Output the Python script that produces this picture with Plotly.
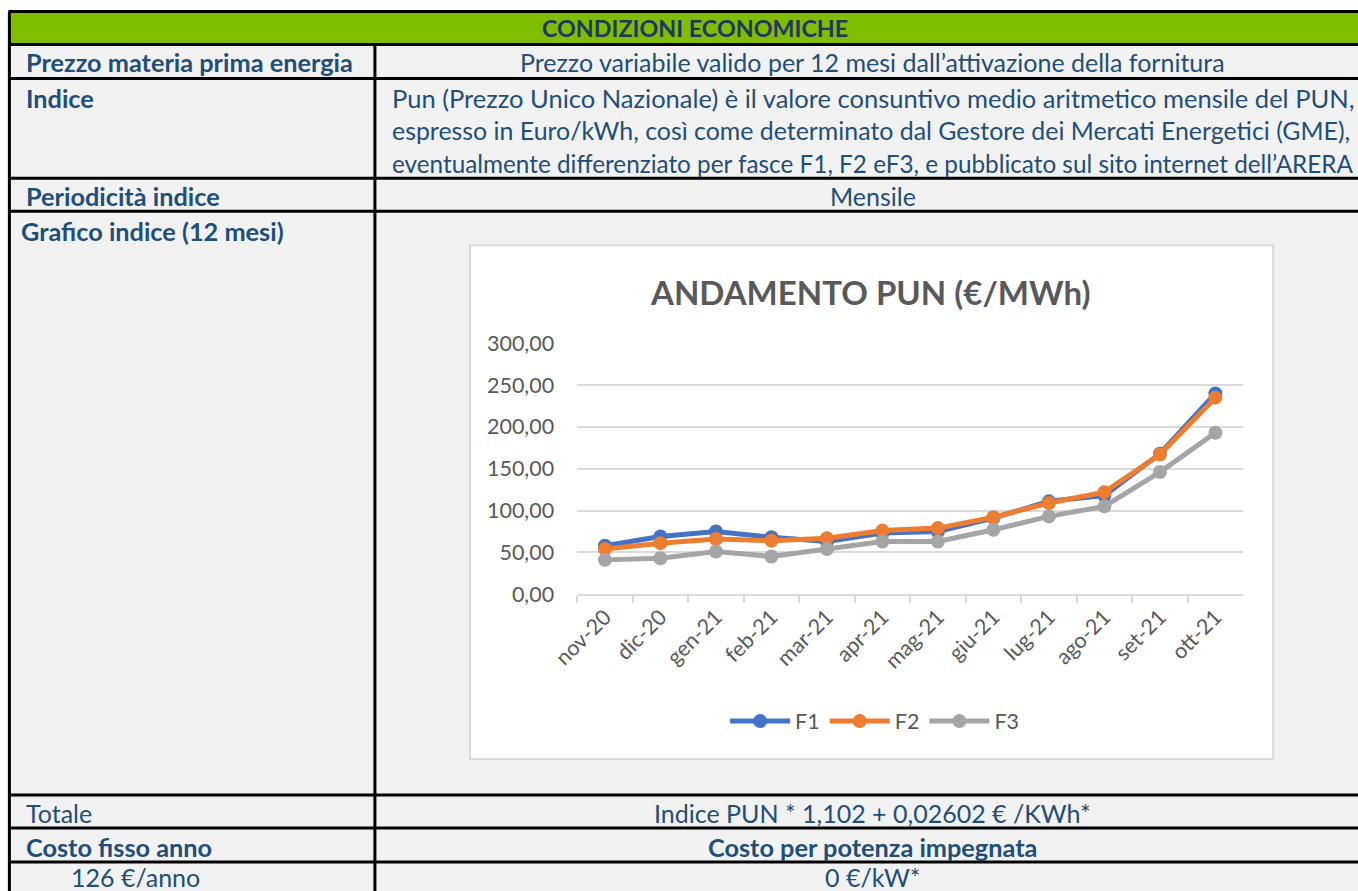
import plotly.graph_objects as go

# page shift applied to the body, and measured page->picture mapping of the renderer
MX, MY = 20, 10
W, H = 1358 + MX, 905 + MY
AX, SX = 27.2, 0.979
AY, SY = 13.3, 0.972

months = ["nov-20", "dic-20", "gen-21", "feb-21", "mar-21", "apr-21",
          "mag-21", "giu-21", "lug-21", "ago-21", "set-21", "ott-21"]
F1 = [58, 69, 75, 68, 63, 73, 75, 91, 111, 118, 168, 240]
F2 = [54, 61, 66, 64, 67, 76, 79, 92, 109, 122, 167, 235]
F3 = [41, 43, 51, 45, 54, 63, 63, 77, 93, 105, 146, 193]
series_names = ["F1", "F2", "F3"]
series_colors = ["#4472C4", "#ED7D31", "#A5A5A5"]

y_ticks = [0, 50, 100, 150, 200, 250, 300]

title_text = "ANDAMENTO PUN (€/MWh)"
header_text = "CONDIZIONI ECONOMICHE"

FONT = "Lato"
TXT = "#1F4E79"
HDR = "#1F3864"
GRAY = "#595959"


def fx(t):
    return max((t - AX) / SX + MX, 1.5)


def fy(t):
    return max((t - AY) / SY + MY, 1.5)


def px(t):
    return fx(t) / W


def py(t):
    return 1 - fy(t) / H


fig = go.Figure()
for name, vals, col in zip(series_names, [F1, F2, F3], series_colors):
    fig.add_trace(go.Scatter(
        x=months, y=vals, name=name, mode="lines+markers",
        line=dict(color=col, width=5),
        marker=dict(color=col, size=14),
    ))

shapes = []
shapes.append(dict(type="rect", xref="paper", yref="paper", x0=px(10), x1=1,
                   y0=0, y1=py(12), fillcolor="#F2F2F2", line=dict(width=0), layer="below"))
shapes.append(dict(type="rect", xref="paper", yref="paper", x0=px(10), x1=1,
                   y0=py(45), y1=py(12), fillcolor="#80BC00", line=dict(width=0), layer="below"))
shapes.append(dict(type="rect", xref="paper", yref="paper", x0=px(470), x1=px(1272),
                   y0=py(760), y1=py(246), fillcolor="#FFFFFF",
                   line=dict(color="#D9D9D9", width=2), layer="below"))
for yy in [12, 45, 79, 179, 212, 796, 829, 863]:
    shapes.append(dict(type="line", xref="paper", yref="paper", x0=px(9), x1=1,
                       y0=py(yy), y1=py(yy), line=dict(color="#000000", width=3), layer="below"))
shapes.append(dict(type="line", xref="paper", yref="paper", x0=px(10), x1=px(10),
                   y0=py(12), y1=0, line=dict(color="#000000", width=3), layer="below"))
shapes.append(dict(type="line", xref="paper", yref="paper", x0=px(375), x1=px(375),
                   y0=py(45), y1=0, line=dict(color="#000000", width=3), layer="below"))

annotations = []


def add_text(text, x, y, anchor="left", bold=False, size=25.3, color=TXT):
    annotations.append(dict(
        text=f"<b>{text}</b>" if bold else text,
        xref="paper", yref="paper", x=px(x), y=py(y),
        xanchor=anchor, yanchor="middle", showarrow=False,
        font=dict(family=FONT, size=size, color=color),
    ))


add_text(header_text, 695, 29, anchor="center", bold=True, size=23.3, color=HDR)
add_text("Prezzo materia prima energia", 25, 63, bold=True)
add_text("Prezzo variabile valido per 12 mesi dall’attivazione della fornitura", 872, 63,
         anchor="center", size=25)
add_text("Indice", 25, 99, bold=True)
add_text("Pun (Prezzo Unico Nazionale) è il valore consuntivo medio aritmetico mensile del PUN,",
         390, 99, size=25.5)
add_text("espresso in Euro/kWh, così come determinato dal Gestore dei Mercati Energetici (GME),",
         390, 131, size=24.9)
add_text("eventualmente differenziato per fasce F1, F2 eF3, e pubblicato sul sito internet dell’ARERA",
         390, 164, size=24.3)
add_text("Periodicità indice", 25, 197, bold=True)
add_text("Mensile", 872, 197, anchor="center", size=25)
add_text("Grafico indice (12 mesi)", 20, 232, bold=True)
add_text("Totale", 25, 814, size=25)
add_text("Indice PUN * 1,102 + 0,02602 € /KWh*", 872, 814, anchor="center", size=25)
add_text("Costo fisso anno", 25, 848, bold=True)
add_text("Costo per potenza impegnata", 872, 848, anchor="center", bold=True)
add_text("126 €/anno", 136, 878, anchor="center", size=25)
add_text("0 €/kW*", 872, 878, anchor="center", size=25)
add_text(title_text, 870, 293, anchor="center", bold=True, size=33, color=GRAY)

fig.update_layout(
    width=W, height=H, autosize=False,
    margin=dict(l=0, r=0, t=0, b=0),
    paper_bgcolor="#FFFFFF", plot_bgcolor="rgba(0,0,0,0)",
    separators=",.",
    shapes=shapes, annotations=annotations,
    showlegend=True,
    legend=dict(orientation="h", x=px(874), y=py(722), xanchor="center", yanchor="middle",
                font=dict(family=FONT, size=21.5, color=GRAY), bgcolor="rgba(0,0,0,0)",
                itemwidth=60, traceorder="normal"),
    xaxis=dict(domain=[px(577), px(1242)], type="category", categoryorder="array",
               categoryarray=months, range=[-0.5, 11.5], tickson="boundaries",
               ticks="outside", ticklen=7, tickcolor="#D9D9D9", tickwidth=1.5,
               showline=True, linecolor="#D9D9D9", linewidth=1.5, showgrid=False,
               tickangle=-45, tickfont=dict(family=FONT, size=21.5, color=GRAY)),
    yaxis=dict(domain=[py(595), py(344)], range=[0, 300], tickvals=y_ticks,
               tickformat=".2f", showgrid=True, gridcolor="#D9D9D9", gridwidth=1.5,
               zeroline=False, showline=False, ticks="", ticklabelstandoff=22,
               tickfont=dict(family=FONT, size=21.5, color=GRAY)),
    hovermode=False,
)

fig.write_html(
    "out.html", config={"displayModeBar": False},
    post_script=("document.body.style.margin='0';document.body.style.overflow='hidden';"
                 f"document.body.style.marginLeft='-{MX}px';document.body.style.marginTop='-{MY}px';"),
)
